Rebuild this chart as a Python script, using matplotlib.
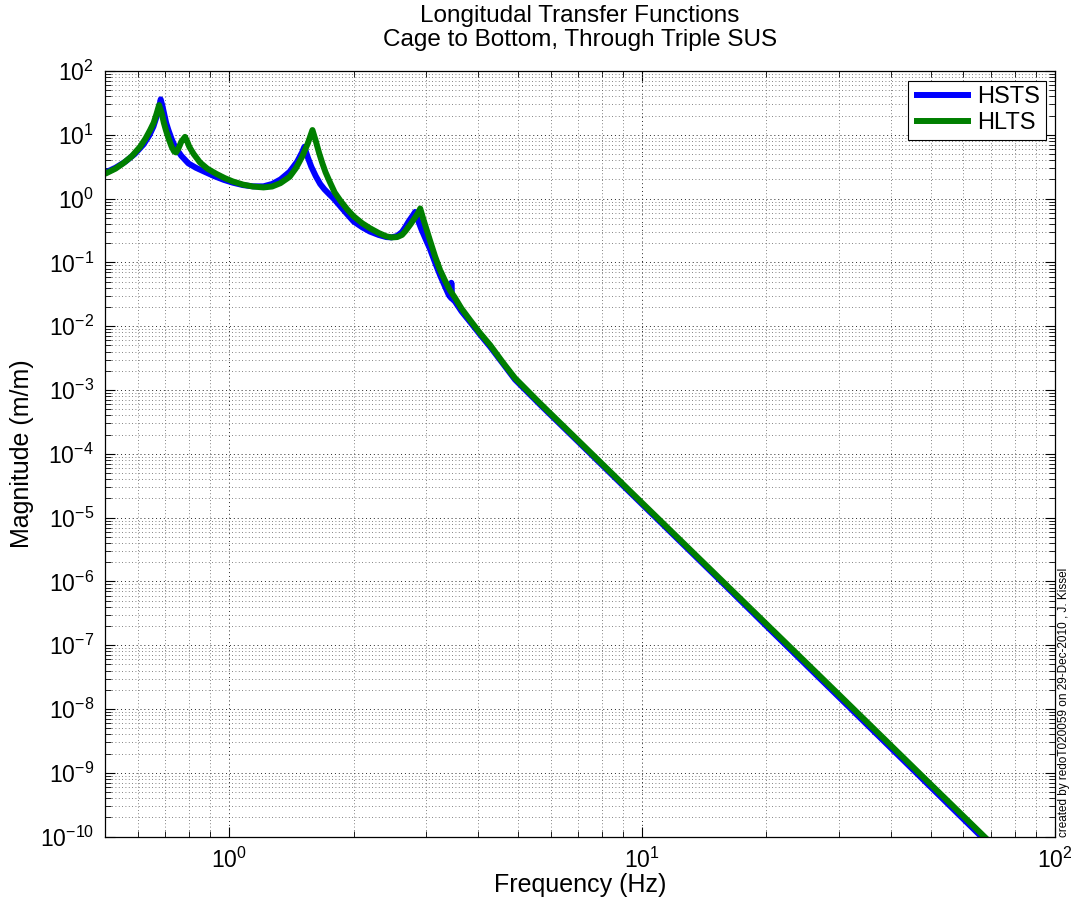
import matplotlib
matplotlib.use("Agg")
import matplotlib.pyplot as plt
from matplotlib.ticker import LogLocator, LogFormatterMathtext, NullFormatter, FixedLocator

plt.rcParams['font.family'] = ['Liberation Sans', 'DejaVu Sans']
plt.rcParams['mathtext.fontset'] = 'custom'
plt.rcParams['mathtext.rm'] = 'Liberation Sans'
plt.rcParams['mathtext.it'] = 'Liberation Sans:italic'
plt.rcParams['mathtext.bf'] = 'Liberation Sans:bold'

# Longitudinal cage-to-bottom-mass transfer function magnitudes (m/m)
hsts_freq = [0.50, 0.53, 0.56, 0.59, 0.62, 0.64, 0.655, 0.667, 0.675, 0.682,
             0.689, 0.695, 0.703, 0.712, 0.725, 0.739, 0.765, 0.796, 0.83, 0.87,
             0.92, 0.97, 1.02, 1.08, 1.14, 1.21, 1.27, 1.33, 1.40, 1.46,
             1.50, 1.52, 1.55, 1.58, 1.62, 1.66, 1.70, 1.74, 1.79, 1.86,
             1.93, 2.0, 2.1, 2.19, 2.3, 2.4, 2.47, 2.55, 2.62, 2.67,
             2.72, 2.78, 2.82, 2.86, 2.92, 3.0, 3.06, 3.15, 3.24, 3.33,
             3.40, 3.44, 3.45, 3.465, 3.52, 3.65, 3.83, 4.05, 4.28, 4.6,
             4.92, 5.66, 7.0, 10.0, 15.0, 20.0, 30.0, 50.0, 70.0]
hsts_mag = [2.55, 3.05, 3.8, 5.0, 7.1, 9.8, 13.5, 19.5, 26.0, 36.0,
            28.0, 21.7, 15.5, 11.9, 8.6, 6.5, 4.7, 3.57, 3.05, 2.65,
            2.25, 1.97, 1.78, 1.63, 1.56, 1.56, 1.7, 2.0, 2.64, 3.8,
            5.3, 6.5, 4.4, 3.16, 2.25, 1.7, 1.4, 1.2, 1.0, 0.75,
            0.57, 0.44, 0.355, 0.305, 0.27, 0.25, 0.247, 0.26, 0.3, 0.36,
            0.44, 0.54, 0.62, 0.47, 0.33, 0.22, 0.165, 0.10, 0.063, 0.042,
            0.031, 0.028, 0.048, 0.027, 0.0245, 0.0172, 0.0117, 0.0074, 0.0048, 0.0026,
            0.00146, 5.9e-4, 1.55e-4, 1.62e-5, 1.25e-6, 2.0e-7, 1.53e-8, 6.0e-10, 7.1e-11]

hlts_freq = [0.50, 0.53, 0.553, 0.58, 0.608, 0.627, 0.643, 0.656, 0.667, 0.676,
             0.686, 0.694, 0.702, 0.713, 0.725, 0.735, 0.743, 0.752, 0.765, 0.781,
             0.79, 0.80, 0.82, 0.849, 0.885, 0.93, 0.975, 1.02, 1.08, 1.14,
             1.21, 1.27, 1.33, 1.40, 1.45, 1.50, 1.55, 1.59, 1.62, 1.65,
             1.68, 1.71, 1.75, 1.80, 1.86, 1.93, 2.0, 2.1, 2.19, 2.3,
             2.4, 2.47, 2.55, 2.62, 2.67, 2.75, 2.82, 2.87, 2.90, 2.95,
             3.0, 3.06, 3.15, 3.24, 3.33, 3.42, 3.52, 3.65, 3.83, 4.05,
             4.28, 4.6, 4.92, 5.66, 7.0, 10.0, 15.0, 20.0, 30.0, 50.0, 70.0]
hlts_mag = [2.45, 2.95, 3.57, 4.6, 6.5, 8.8, 11.9, 15.5, 21.7, 29.3,
            21.7, 15.5, 11.9, 8.7, 6.5, 5.5, 5.3, 6.0, 7.8, 9.3,
            8.0, 6.5, 5.0, 3.7, 2.95, 2.45, 2.1, 1.86, 1.66, 1.55,
            1.50, 1.55, 1.75, 2.2, 3.0, 4.5, 7.4, 11.9, 8.0, 5.2,
            3.6, 2.6, 1.85, 1.25, 0.92, 0.68, 0.53, 0.41, 0.345, 0.29,
            0.257, 0.247, 0.25, 0.27, 0.31, 0.40, 0.51, 0.61, 0.70, 0.48,
            0.34, 0.225, 0.125, 0.076, 0.052, 0.037, 0.028, 0.019, 0.0125, 0.0078,
            0.0051, 0.0027, 0.00154, 6.18e-4, 1.62e-4, 1.70e-5, 1.32e-6, 2.15e-7, 1.67e-8, 6.6e-10, 7.9e-11]

series_labels = ['HSTS', 'HLTS']
series_colors = ['#0000ff', '#007f00']

x_major_ticks = [1, 10, 100]
y_major_ticks = [1e-10, 1e-9, 1e-8, 1e-7, 1e-6, 1e-5, 1e-4, 1e-3, 1e-2, 1e-1, 1e0, 1e1, 1e2]

fig = plt.figure(figsize=(10.76, 9.11), dpi=100)
ax = fig.add_axes([0.0976, 0.0816, 0.8829, 0.8404])

ax.loglog(hsts_freq, hsts_mag, color=series_colors[0], lw=4.3, label=series_labels[0],
          solid_joinstyle='round', solid_capstyle='butt')
ax.loglog(hlts_freq, hlts_mag, color=series_colors[1], lw=4.3, label=series_labels[1],
          solid_joinstyle='round', solid_capstyle='butt')

ax.set_xlim(0.5, 100)
ax.set_ylim(1e-10, 1e2)

ax.xaxis.set_major_locator(FixedLocator(x_major_ticks))
ax.yaxis.set_major_locator(FixedLocator(y_major_ticks))
ax.xaxis.set_minor_locator(LogLocator(base=10, subs=range(2, 10), numticks=50))
ax.yaxis.set_minor_locator(LogLocator(base=10, subs=range(2, 10), numticks=50))
ax.xaxis.set_major_formatter(LogFormatterMathtext())
ax.yaxis.set_major_formatter(LogFormatterMathtext())
ax.xaxis.set_minor_formatter(NullFormatter())
ax.yaxis.set_minor_formatter(NullFormatter())

ax.grid(True, which='major', color='0.15', linestyle=(0, (1, 3)), linewidth=0.7)
ax.grid(True, which='minor', color='0.35', linestyle=(0, (1, 3)), linewidth=0.6)
ax.set_axisbelow(True)

ax.tick_params(which='both', direction='in', top=True, right=True, labelsize=16.5, pad=8)
ax.tick_params(which='major', length=7, width=0.8)
ax.tick_params(which='minor', length=4, width=0.6)
for sp in ax.spines.values():
    sp.set_linewidth(0.9)

ax.set_xlabel('Frequency (Hz)', fontsize=18, labelpad=0)
ax.set_ylabel('Magnitude (m/m)', fontsize=18, labelpad=4)
ax.set_title('Longitudal Transfer Functions\nCage to Bottom, Through Triple SUS',
             fontsize=17.5, pad=18, linespacing=1.1)

leg = ax.legend(loc='upper right', fontsize=17, fancybox=False, framealpha=1,
                edgecolor='black', borderpad=0.25, labelspacing=0.15,
                handlelength=2.4, handletextpad=0.25, borderaxespad=0.4)
leg.get_frame().set_linewidth(0.8)

fig.text(0.9885, 0.0816, 'created by redoT020059 on 29-Dec-2010 , J. Kissel',
         rotation=90, fontsize=8.5, ha='center', va='bottom')

fig.savefig('out.png', dpi=100)
